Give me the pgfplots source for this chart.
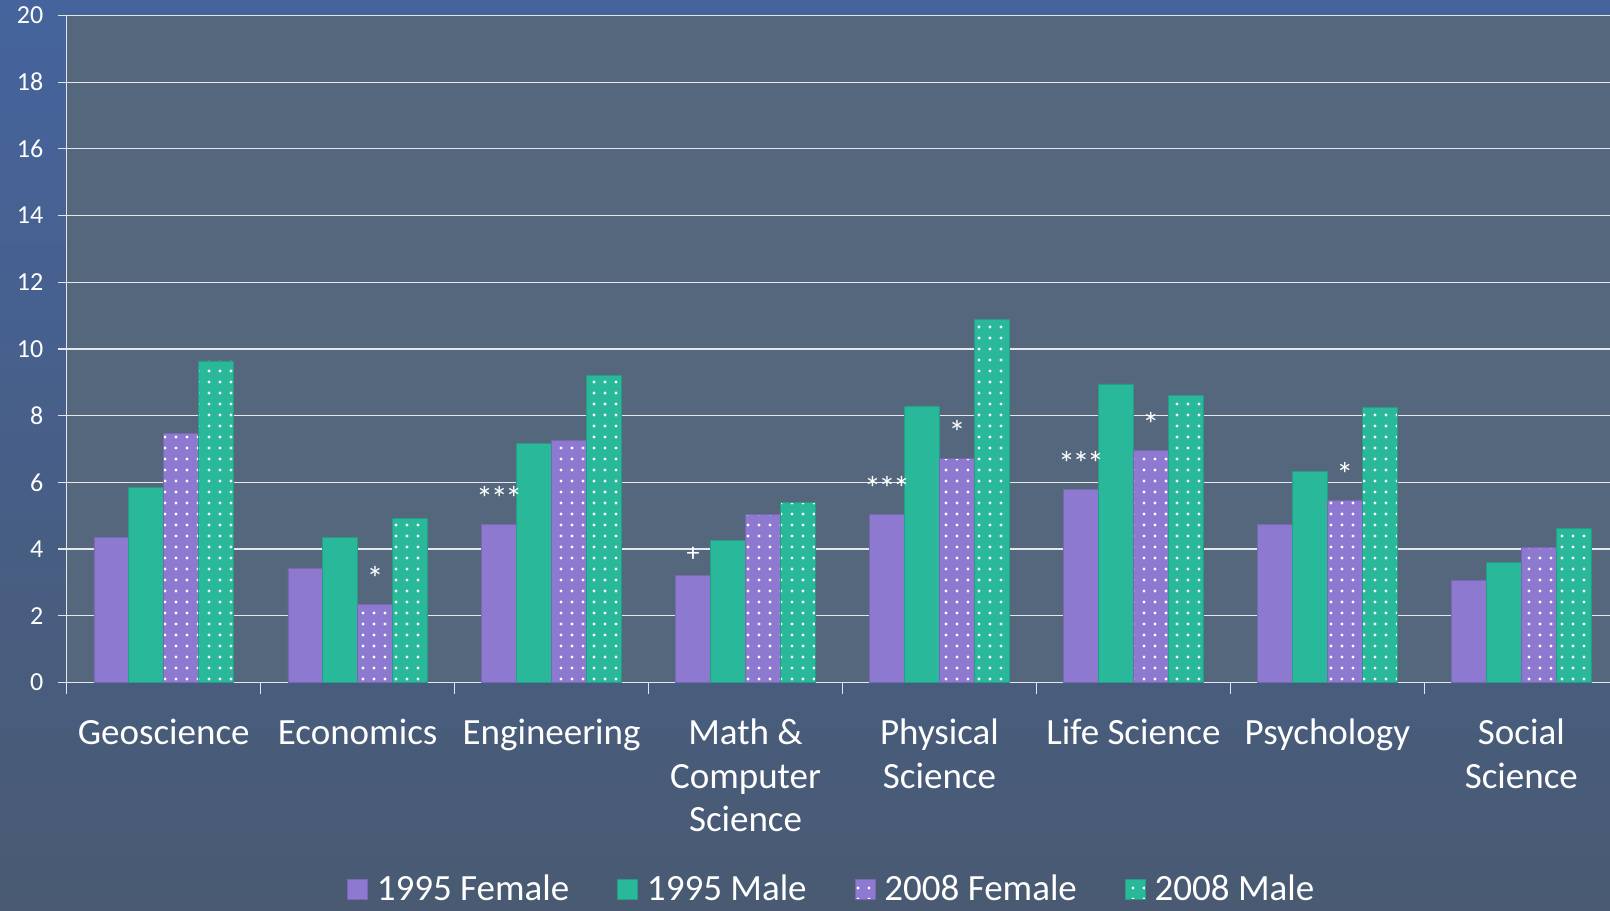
\documentclass[border=0pt]{standalone}
\usepackage{pgfplots}
\pgfplotsset{compat=1.18}
\usepackage{fontspec}
\setmainfont{Carlito}
\usetikzlibrary{patterns.meta}
\definecolor{fem}{RGB}{142,121,208}
\definecolor{mal}{RGB}{41,185,154}
\definecolor{plotbg}{RGB}{84,103,125}
\definecolor{bgtop}{RGB}{69,100,157}
\definecolor{bgbot}{RGB}{73,90,114}
\definecolor{gridc}{RGB}{228,230,234}
\newcommand{\one}{{\fontsize{17}{18}\selectfont *}}
\newcommand{\three}{{\fontsize{17}{18}\selectfont *\kern-1.2pt*\kern-1.2pt*}}
\begin{document}
\begin{tikzpicture}
\fill[top color=bgtop, bottom color=bgbot] (0,0) rectangle (805pt,455pt);
\path[use as bounding box] (0,0) rectangle (805pt,455pt);
\begin{axis}[
  at={(33.35pt,113.75pt)}, anchor=south west,
  scale only axis, width=771.65pt, height=333.55pt,
  xmin=-0.5, xmax=7.457, ymin=0, ymax=20,
  ybar, bar width=0.18,
  axis background/.style={fill=plotbg},
  axis x line*=bottom, axis y line*=left,
  axis line style={-, draw=gridc, line width=0.6pt},
  ymajorgrids, major grid style={draw=gridc, line width=0.6pt},
  ytick={0,2,...,20},
  xtick={0,...,7},
  minor xtick={-0.5,0.5,...,6.5},
  xticklabels={Geoscience,Economics,Engineering,{Math \&\\Computer\\Science},{Physical\\Science},Life Science,Psychology,{Social\\Science}},
  tick align=outside,
  major x tick style={draw=none},
  major tick length=4.2pt, minor tick length=5.5pt,
  every tick/.style={draw=gridc, line width=0.6pt},
  minor x tick style={draw=gridc, line width=0.6pt},
  yticklabel style={font=\fontsize{13}{15}\selectfont, text=white, xshift=-4pt},
  xticklabel style={font=\fontsize{18.5}{21.7}\selectfont, text=white, align=center, anchor=north, yshift=-10.5pt},
  /pgf/number format/assume math mode=true,
  legend style={draw=none, fill=none, at={(0.495,-0.31)}, anchor=center,
    font=\fontsize{18.5}{21}\selectfont, text=white, legend columns=4,
    nodes={inner sep=0pt},
    /tikz/every odd column/.append style={column sep=4.6pt},
    /tikz/every even column/.append style={column sep=24pt}},
  legend image code/.code={\path[#1] (0pt,-5pt) rectangle (10pt,5pt);},
  nodes near coords,
  point meta=explicit symbolic,
  every node near coord/.append style={font=\fontsize{13}{14}\selectfont, text=white, anchor=base, inner sep=0pt, yshift=7pt},
]
\addplot[bar shift=-0.27, fill=fem, draw=fem!85!black, line width=0.3pt] coordinates {
(0,4.35) [] (1,3.42) [] (2,4.74) [\three] (3,3.22) [+] (4,5.04) [\three] (5,5.80) [\three] (6,4.74) [] (7,3.05) []};
\addplot[bar shift=-0.09, fill=mal, draw=mal!85!black, line width=0.3pt] coordinates {
(0,5.86) [] (1,4.36) [] (2,7.17) [] (3,4.27) [] (4,8.29) [] (5,8.95) [] (6,6.33) [] (7,3.60) []};
\addplot[bar shift=0.09, fill=fem, draw=fem!85!black, line width=0.3pt, postaction={pattern={Dots[distance=5.5pt, radius=0.85pt]}, pattern color=white}] coordinates {
(0,7.46) [] (1,2.34) [\one] (2,7.27) [] (3,5.05) [] (4,6.72) [\one] (5,6.96) [\one] (6,5.47) [\one] (7,4.05) []};
\addplot[bar shift=0.27, fill=mal, draw=mal!85!black, line width=0.3pt, postaction={pattern={Dots[distance=5.5pt, radius=0.85pt]}, pattern color=white}] coordinates {
(0,9.64) [] (1,4.92) [] (2,9.21) [] (3,5.39) [] (4,10.89) [] (5,8.61) [] (6,8.25) [] (7,4.62) []};
\legend{1995 Female,1995 Male,2008 Female,2008 Male}
\end{axis}
\end{tikzpicture}
\end{document}
